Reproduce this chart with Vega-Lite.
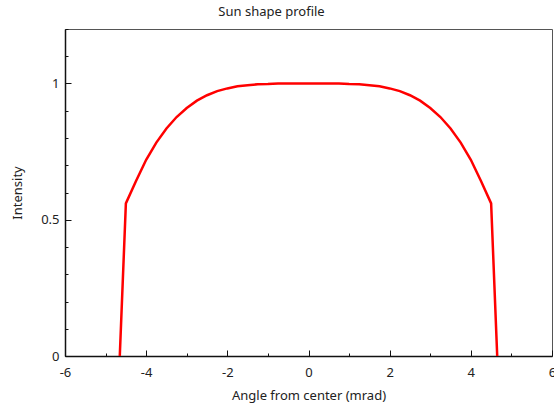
{
  "$schema": "https://vega.github.io/schema/vega-lite/v6.json",
  "width": 487,
  "height": 327,
  "autosize": {"type": "none"},
  "padding": {"left": 65, "top": 29, "right": 2, "bottom": 56},
  "background": "white",
  "title": {
    "text": "Sun shape profile",
    "anchor": "middle",
    "frame": "group",
    "dx": -37,
    "offset": 4,
    "font": "Noto Sans",
    "fontSize": 13,
    "fontWeight": "normal",
    "color": "#222"
  },
  "config": {
    "view": {"stroke": "#555", "strokeWidth": 1},
    "axis": {
      "labelFont": "Noto Sans",
      "labelFontSize": 13,
      "labelColor": "#222",
      "titleFont": "Noto Sans",
      "titleFontSize": 13,
      "titleFontWeight": "normal",
      "titleColor": "#222",
      "domainColor": "#111",
      "domainWidth": 1.5,
      "tickColor": "#111",
      "grid": false
    }
  },
  "data": {
    "values": [
      {"angle": -4.65, "intensity": 0},
      {"angle": -4.5, "intensity": 0.56},
      {"angle": -4.25, "intensity": 0.642},
      {"angle": -4.0, "intensity": 0.72},
      {"angle": -3.75, "intensity": 0.783},
      {"angle": -3.5, "intensity": 0.835},
      {"angle": -3.25, "intensity": 0.877},
      {"angle": -3.0, "intensity": 0.91},
      {"angle": -2.75, "intensity": 0.937},
      {"angle": -2.5, "intensity": 0.957},
      {"angle": -2.25, "intensity": 0.972},
      {"angle": -2.0, "intensity": 0.982},
      {"angle": -1.75, "intensity": 0.99},
      {"angle": -1.5, "intensity": 0.994},
      {"angle": -1.25, "intensity": 0.997},
      {"angle": -1.0, "intensity": 0.998},
      {"angle": -0.75, "intensity": 1.0},
      {"angle": -0.5, "intensity": 1.0},
      {"angle": -0.25, "intensity": 1.0},
      {"angle": 0, "intensity": 1.0},
      {"angle": 0.25, "intensity": 1.0},
      {"angle": 0.5, "intensity": 1.0},
      {"angle": 0.75, "intensity": 1.0},
      {"angle": 1.0, "intensity": 0.998},
      {"angle": 1.25, "intensity": 0.997},
      {"angle": 1.5, "intensity": 0.994},
      {"angle": 1.75, "intensity": 0.99},
      {"angle": 2.0, "intensity": 0.982},
      {"angle": 2.25, "intensity": 0.972},
      {"angle": 2.5, "intensity": 0.957},
      {"angle": 2.75, "intensity": 0.937},
      {"angle": 3.0, "intensity": 0.91},
      {"angle": 3.25, "intensity": 0.877},
      {"angle": 3.5, "intensity": 0.835},
      {"angle": 3.75, "intensity": 0.783},
      {"angle": 4.0, "intensity": 0.72},
      {"angle": 4.25, "intensity": 0.642},
      {"angle": 4.5, "intensity": 0.56},
      {"angle": 4.65, "intensity": 0}
    ]
  },
  "mark": {"type": "line", "color": "#ff0000", "strokeWidth": 2.5, "clip": true},
  "encoding": {
    "x": {
      "field": "angle",
      "type": "quantitative",
      "scale": {"domain": [-6, 6], "nice": false},
      "axis": {
        "title": "Angle from center (mrad)",
        "titlePadding": 7,
        "values": [-6, -5, -4, -3, -2, -1, 0, 1, 2, 3, 4, 5, 6],
        "labelExpr": "abs(datum.value % 2) === 0 ? '' + datum.value : ''",
        "tickSize": {"condition": {"test": "abs(datum.value % 2) === 0", "value": -6}, "value": -3},
        "labelPadding": 16,
        "labelFlush": false,
        "labelOverlap": false
      }
    },
    "y": {
      "field": "intensity",
      "type": "quantitative",
      "scale": {"domain": [0, 1.2], "nice": false, "zero": true},
      "axis": {
        "title": "Intensity",
        "titlePadding": 16,
        "values": [0, 0.1, 0.2, 0.3, 0.4, 0.5, 0.6, 0.7, 0.8, 0.9, 1.0, 1.1, 1.2],
        "labelExpr": "round(datum.value * 10) % 5 === 0 && datum.value < 1.15 ? '' + datum.value : ''",
        "tickSize": {"condition": {"test": "round(datum.value * 10) % 5 === 0", "value": -6}, "value": -3},
        "labelPadding": 12,
        "labelFlush": false,
        "labelOverlap": false
      }
    }
  }
}
